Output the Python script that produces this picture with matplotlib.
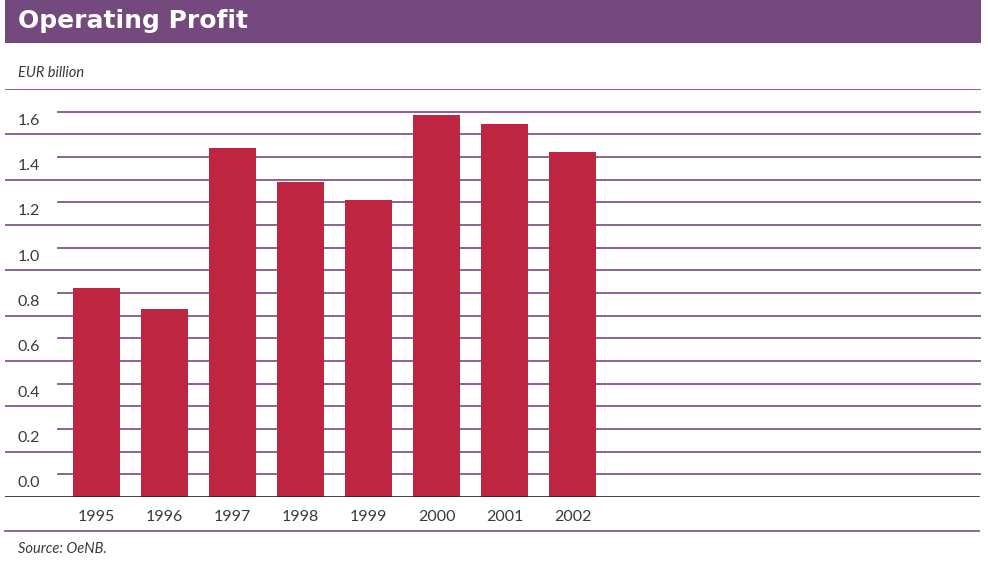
import matplotlib.pyplot as plt
from matplotlib.patches import Rectangle

# operating profit, EUR billion
years = ['1995', '1996', '1997', '1998', '1999', '2000', '2001', '2002']
profit = [0.92, 0.83, 1.54, 1.39, 1.31, 1.685, 1.645, 1.52]
tick_values = [0.0, 0.2, 0.4, 0.6, 0.8, 1.0, 1.2, 1.4, 1.6]
tick_labels = ['0.0', '0.2', '0.4', '0.6', '0.8', '1.0', '1.2', '1.4', '1.6']

purple = '#744a7e'
line_col = '#83558d'
bar_col = '#be2540'
text_col = '#3a3a3a'

plt.rcParams['font.family'] = ['Lato', 'DejaVu Sans']

fig = plt.figure(figsize=(9.88, 5.63), dpi=100)
W, H = 988.0, 563.0

# title band
fig.add_artist(Rectangle((5 / W, 1 - 43 / H), 976 / W, 43 / H,
                         transform=fig.transFigure, color=purple, lw=0))
fig.text(18 / W, 1 - 21 / H, 'Operating Profit', color='white',
         fontsize=18, fontweight='bold', family='DejaVu Sans',
         va='center', ha='left')

fig.text(18 / W, 1 - 73 / H, 'EUR billion', color=text_col, fontsize=10.5,
         style='italic', va='center', ha='left')

ax = fig.add_axes([5 / W, 66 / H, 976 / W, 408 / H])
ax.set_xlim(-1.346, 13.007)
ax.set_ylim(0, 1.8)
ax.axis('off')

# full-width lines on the even steps, shorter ones on the odd steps
for k in range(1, 10):
    ax.axhline(k * 0.2, xmin=0, xmax=1, color=line_col, lw=1.3, zorder=1)
for k in range(0, 9):
    ax.axhline(k * 0.2 + 0.1, xmin=0.0543, xmax=1, color=line_col, lw=1.3, zorder=1)

x = list(range(len(years)))
ax.bar(x, profit, width=0.69, color=bar_col, zorder=2)
ax.axhline(0, xmin=0, xmax=0.998, color='#222222', lw=1.2, zorder=3)

for v, lab in zip(tick_values, tick_labels):
    ax.text(-1.155, v + 0.06, lab, color=text_col, fontsize=11.5,
            va='center', ha='left')

for xi, yr in zip(x, years):
    ax.text(xi, -0.088, yr, color=text_col, fontsize=11.5,
            va='center', ha='center')

# rule above the source note
fig.add_artist(plt.Line2D([5 / W, 979 / W], [1 - 531 / H, 1 - 531 / H],
                          transform=fig.transFigure, color=line_col, lw=1.3))
fig.text(18 / W, 1 - 549 / H, 'Source: OeNB.', color=text_col, fontsize=10.5,
         style='italic', va='center', ha='left')

fig.savefig('out.png', dpi=100)
